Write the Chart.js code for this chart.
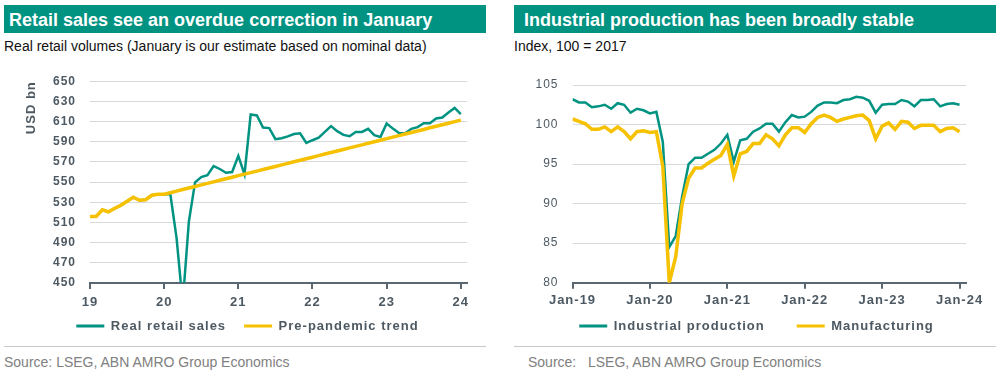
<!DOCTYPE html>
<html>
<head>
<meta charset="utf-8">
<script src="https://cdn.jsdelivr.net/npm/chart.js@4.4.1/dist/chart.umd.min.js"></script>
<style>
  body { margin: 0; width: 1004px; height: 375px; background: #fff; position: relative; overflow: hidden;
         font-family: "Liberation Sans", Arial, sans-serif; }
  .banner { position: absolute; top: 5px; height: 28px; width: 482px; background: #009382; color: #fff;
            font-weight: bold; font-size: 18px; line-height: 31px; box-sizing: border-box; overflow: hidden; white-space: nowrap; }
  .sub { position: absolute; top: 38px; font-size: 14px; line-height: 16px; color: #111; }
  .rule { position: absolute; top: 346px; height: 1px; width: 482px; background: #c8c8c8; }
  .src { position: absolute; top: 354px; font-size: 14px; line-height: 16px; color: #808080; white-space: pre; }
  canvas { position: absolute; top: 60px; }
</style>
</head>
<body>
<div class="banner" style="left:4px; padding-left:5px">Retail sales see an overdue correction in January</div>
<div class="sub" style="left:4px">Real retail volumes (January is our estimate based on nominal data)</div>
<canvas id="retailChart" width="490" height="285" style="left:0"></canvas>
<div class="rule" style="left:4px"></div>
<div class="src" style="left:4px">Source: LSEG, ABN AMRO Group Economics</div>

<div class="banner" style="left:514px; padding-left:10px">Industrial production has been broadly stable</div>
<div class="sub" style="left:514px">Index, 100 = 2017</div>
<canvas id="industryChart" width="494" height="285" style="left:510px"></canvas>
<div class="rule" style="left:514px"></div>
<div class="src" style="left:528px">Source:   LSEG, ABN AMRO Group Economics</div>

<script>
// monthly categories, Jan-19 .. Jan-24
const monthNames = ['Jan', 'Feb', 'Mar', 'Apr', 'May', 'Jun', 'Jul', 'Aug', 'Sep', 'Oct', 'Nov', 'Dec'];
const months = [];
for (let y = 19; y <= 24; y++) {
    for (const m of monthNames) {
        if (months.length < 61) months.push(m + '-' + y);
    }
}

const industryTicks = ['Jan-19', 'Jan-20', 'Jan-21', 'Jan-22', 'Jan-23', 'Jan-24'];
const retailTicks = ['19', '20', '21', '22', '23', '24'];

// USD bn
const realRetailSales = [
    516, 516, 522.5, 520.5, 524, 527, 531, 535, 532, 532.5, 537, 538, 538,
    538, 495, 430, 511, 549.7, 555, 556.8, 565.8, 563, 559.3, 560, 576,
    557.7, 617, 616, 604, 603.5, 592.5, 593.5, 595.3, 597.6, 598.4, 588.8, 591.5,
    594, 599.7, 605.5, 600.5, 596.8, 595.5, 599.7, 599.7, 602.8, 596.5, 594.8, 608,
    603, 598.7, 598.4, 602.8, 604.5, 608.4, 608.4, 613, 614, 619, 623.5, 617.4
];
const prePandemicTrend = [
    516, 516, 522.5, 520.5, 524, 527, 531, 535, 532, 532.5, 537, 538, 538,
    539.5, 541.1, 542.6, 544.1, 545.7, 547.2, 548.7, 550.2, 551.8, 553.3, 554.8, 556.4,
    557.9, 559.4, 560.9, 562.5, 564.0, 565.5, 567.1, 568.6, 570.1, 571.7, 573.2, 574.7,
    576.2, 577.8, 579.3, 580.8, 582.3, 583.9, 585.4, 586.9, 588.5, 590.0, 591.5, 593.1,
    594.6, 596.1, 597.6, 599.2, 600.7, 602.2, 603.8, 605.3, 606.8, 608.3, 609.9, 611.4
];

// index, 100 = 2017
const industrialProduction = [
    103.2, 102.8, 102.8, 102.2, 102.3, 102.5, 102.0, 102.7, 102.5, 101.5, 102.0, 101.8, 101.4,
    101.6, 97.8, 84.5, 85.9, 90.9, 95.0, 95.8, 95.8, 96.3, 96.8, 97.6, 98.7,
    95.3, 98.0, 98.2, 99.1, 99.5, 100.1, 100.1, 99.1, 100.3, 101.2, 100.9, 101.0,
    101.6, 102.4, 102.8, 102.8, 102.7, 103.1, 103.2, 103.5, 103.4, 103.0, 101.5, 102.5,
    102.6, 102.6, 103.1, 102.9, 102.3, 103.1, 103.1, 103.2, 102.3, 102.6, 102.7, 102.5
];
const manufacturing = [
    100.7, 100.4, 100.1, 99.4, 99.4, 99.7, 99.1, 99.7, 99.1, 98.2, 99.1, 99.2, 99.0,
    99.1, 94.7, 80.0, 83.3, 90.0, 93.2, 94.5, 94.5, 95.1, 95.6, 96.1, 97.5,
    93.5, 96.3, 96.6, 97.6, 97.6, 98.7, 98.2, 97.3, 98.7, 99.6, 99.6, 99.0,
    100.1, 100.9, 101.2, 100.9, 100.4, 100.7, 100.9, 101.1, 101.2, 100.5, 98.2, 99.8,
    100.2, 99.4, 100.4, 100.3, 99.5, 99.9, 99.9, 99.9, 99.1, 99.5, 99.6, 99.1
];

const GREEN = '#009382';
const YELLOW = '#f5c100';
const AXIS = '#5a6670';
const TEXT = '#4d5962';
const GRID = '#d9d9d9';

Chart.defaults.font.family = '"Liberation Sans", Arial, sans-serif';
Chart.defaults.animation = false;

// the original uses loosely tracked lettering in the axes and legend
const letterSpacing = {
    id: 'letterSpacing',
    beforeLayout(chart) { chart.ctx.letterSpacing = '1px'; },
    beforeDraw(chart) { chart.ctx.letterSpacing = '1px'; }
};

const toPoints = values => values.map((v, i) => ({ x: i, y: v }));

function lineDataset(label, values, color, width, order) {
    return {
        label: label,
        data: toPoints(values),
        borderColor: color,
        backgroundColor: color,
        borderWidth: width,
        pointRadius: 0,
        tension: 0,
        order: order
    };
}

// labels are "mirrored" with a negative padding so they are not clipped to the
// (deliberately thin) axis box; that lets the legend sit right under the axis
function xAxis(tickText, height, labelOffset) {
    return {
        type: 'linear',
        min: 0,
        max: 61,
        afterBuildTicks: scale => {
            scale.ticks = industryTicks.map(t => ({ value: months.indexOf(t) }));
        },
        afterFit: scale => { scale.height = height; },
        ticks: {
            autoSkip: false,
            maxRotation: 0,
            mirror: true,
            padding: -labelOffset,
            color: TEXT,
            font: { size: 13, weight: 'bold' },
            callback: (value, index) => tickText[index]
        },
        grid: { drawOnChartArea: false, tickLength: 6, color: AXIS, lineWidth: 2 },
        border: { display: true, color: AXIS, width: 2 }
    };
}

function legend(gap) {
    return {
        position: 'bottom',
        labels: {
            boxWidth: 28,
            boxHeight: 3,
            padding: gap,
            color: TEXT,
            font: { size: 13, weight: 'bold' },
            sort: (a, b) => a.datasetIndex - b.datasetIndex,
            generateLabels: chart => Chart.defaults.plugins.legend.labels.generateLabels(chart)
                .map(item => ({ ...item, fillStyle: item.strokeStyle, lineWidth: 0 }))
        }
    };
}

new Chart(document.querySelector('#retailChart').getContext('2d'), {
    type: 'line',
    data: {
        datasets: [
            lineDataset('Real retail sales', realRetailSales, GREEN, 2.5, 1),
            lineDataset('Pre-pandemic trend', prePandemicTrend, YELLOW, 3.5, 0)
        ]
    },
    options: {
        responsive: false,
        // left padding centres the legend where the original has it
        layout: { padding: { top: 16, right: 23, bottom: 2.5, left: 28 } },
        plugins: { legend: legend(18), tooltip: { enabled: false } },
        scales: {
            x: xAxis(retailTicks, 18.5, 27.3),
            y: {
                min: 450,
                max: 650,
                afterFit: scale => { scale.width = 62; },
                ticks: { stepSize: 20, padding: 14, color: TEXT, font: { size: 12, weight: 'bold' } },
                grid: { color: GRID, drawTicks: false },
                border: { display: false },
                title: {
                    display: true,
                    text: 'USD bn',
                    align: 'end',
                    color: TEXT,
                    font: { size: 13, weight: 'bold' },
                    padding: { top: -4, bottom: 0 }
                }
            }
        }
    },
    plugins: [letterSpacing]
});

new Chart(document.querySelector('#industryChart').getContext('2d'), {
    type: 'line',
    data: {
        datasets: [
            lineDataset('Industrial production', industrialProduction, GREEN, 2.5, 1),
            lineDataset('Manufacturing', manufacturing, YELLOW, 3.5, 0)
        ]
    },
    options: {
        responsive: false,
        layout: { padding: { top: 25, right: 38, bottom: 2.5, left: 37 } },
        plugins: { legend: legend(32), tooltip: { enabled: false } },
        scales: {
            x: xAxis(industryTicks, 4.8, 25.1),
            y: {
                min: 80,
                max: 105,
                afterFit: scale => { scale.width = 25.5; },
                // mirrored too, so the labels may reach left of the narrow axis box
                ticks: { stepSize: 5, mirror: true, crossAlign: 'far', padding: -37, color: TEXT, font: { size: 12 } },
                grid: { color: GRID, drawTicks: false },
                border: { display: false }
            }
        }
    },
    plugins: [letterSpacing]
});
</script>
</body>
</html>
